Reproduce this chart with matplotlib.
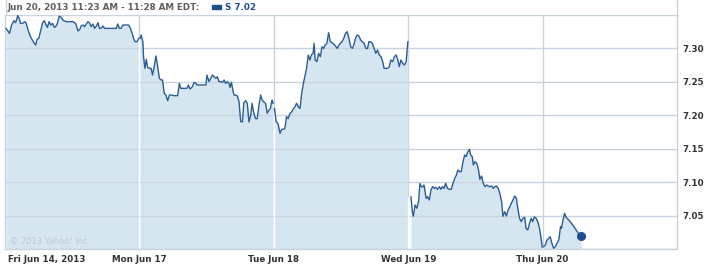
import numpy as np
import matplotlib
matplotlib.use("Agg")
import matplotlib.pyplot as plt
from matplotlib.lines import Line2D
from matplotlib.patches import Rectangle
from matplotlib.transforms import ScaledTranslation

# intraday prices of S, minutes after the open for each session
fri_min = [3, 13, 19, 26, 31, 37, 41, 45, 51, 58, 61, 67, 74, 82, 89, 93, 98, 104, 109, 114,
           118, 123, 128, 133, 138, 143, 147, 152, 157, 162, 167, 171, 178, 197, 205, 212, 217, 221, 226, 231,
           236, 241, 246, 250, 255, 260, 265, 270, 274, 279, 284, 289, 303, 313, 323, 327, 332, 337, 342, 359,
           364, 369, 374, 378, 383, 388]
fri_px = [7.330, 7.3225, 7.335, 7.3415, 7.3385, 7.349, 7.345, 7.3375, 7.3375, 7.340,
          7.3385, 7.3275, 7.3175, 7.310, 7.305, 7.3135, 7.315, 7.3275, 7.3385, 7.3415,
          7.3365, 7.3315, 7.340, 7.335, 7.3375, 7.3315, 7.3325, 7.3375, 7.348, 7.347,
          7.343, 7.3415, 7.340, 7.340, 7.3375, 7.326, 7.3285, 7.3335, 7.335, 7.3325,
          7.3365, 7.340, 7.3375, 7.3325, 7.3365, 7.330, 7.3335, 7.3385, 7.330, 7.330,
          7.3335, 7.330, 7.330, 7.330, 7.330, 7.3365, 7.330, 7.330, 7.335, 7.335,
          7.330, 7.3225, 7.3135, 7.310, 7.310, 7.315]

mon_min = [2, 5, 10, 12, 16, 20, 24, 29, 34, 38, 43, 48, 53, 58, 63, 67, 72, 77, 82, 87,
           92, 101, 111, 116, 120, 130, 138, 142, 147, 154, 159, 164, 168, 193, 196, 202, 207, 212, 217, 222,
           226, 231, 236, 241, 246, 250, 255, 260, 263, 267, 272, 275, 284, 289, 294, 299, 303, 308, 313, 318,
           323, 327, 332, 337, 342, 347, 352, 356, 361, 366, 371, 376, 380, 385, 388]
mon_px = [7.315, 7.320, 7.310, 7.2877, 7.2702, 7.2837, 7.2717, 7.2702, 7.2702, 7.2602,
          7.2727, 7.2887, 7.2727, 7.2553, 7.2528, 7.2528, 7.2328, 7.2303, 7.2218, 7.2303,
          7.2303, 7.2293, 7.2293, 7.2478, 7.2403, 7.2403, 7.2403, 7.2453, 7.2393, 7.2428,
          7.2493, 7.2478, 7.2453, 7.2453, 7.2602, 7.2503, 7.2553, 7.2602, 7.2577, 7.2553,
          7.2577, 7.2503, 7.2503, 7.2493, 7.2528, 7.2478, 7.2503, 7.2478, 7.2418, 7.2493,
          7.2353, 7.2303, 7.2293, 7.2203, 7.1904, 7.1904, 7.2189, 7.2219, 7.218, 7.190,
          7.200, 7.218, 7.203, 7.195, 7.195, 7.2154, 7.2303, 7.223, 7.220, 7.218,
          7.203, 7.208, 7.210, 7.2229, 7.218]

tue_min = [2, 7, 12, 18, 23, 27, 32, 37, 42, 47, 52, 57, 62, 66, 71, 76, 81, 86, 90, 95,
           100, 105, 109, 114, 117, 120, 125, 130, 135, 140, 145, 149, 154, 159, 164, 169, 174, 179, 184, 189,
           193, 198, 203, 208, 213, 218, 223, 228, 232, 237, 242, 247, 252, 257, 262, 267, 272, 276, 281, 286,
           291, 296, 301, 306, 311, 316, 320, 325, 330, 335, 340, 345, 350, 355, 360, 364, 369, 374, 379, 384,
           389]
tue_px = [7.210, 7.190, 7.188, 7.173, 7.179, 7.179, 7.180, 7.198, 7.195, 7.203,
          7.205, 7.210, 7.213, 7.218, 7.213, 7.210, 7.233, 7.248, 7.2577, 7.270,
          7.290, 7.2827, 7.2902, 7.2927, 7.3076, 7.2827, 7.2802, 7.2927, 7.2877, 7.3026,
          7.300, 7.305, 7.3076, 7.3236, 7.310, 7.3086, 7.3066, 7.3036, 7.300, 7.305,
          7.3076, 7.310, 7.315, 7.3226, 7.325, 7.315, 7.3026, 7.300, 7.305, 7.315,
          7.320, 7.3186, 7.3126, 7.310, 7.3076, 7.300, 7.300, 7.310, 7.310, 7.3076,
          7.300, 7.2927, 7.2976, 7.2902, 7.2877, 7.2802, 7.2702, 7.2702, 7.2702, 7.2727,
          7.2827, 7.2802, 7.2877, 7.2902, 7.2827, 7.2727, 7.2827, 7.2777, 7.2752, 7.2802,
          7.310]

wed_min = [8, 12, 15, 20, 25, 30, 34, 38, 42, 46, 52, 56, 61, 66, 71, 76, 80, 85, 90, 95,
           99, 104, 109, 114, 119, 125, 130, 135, 140, 144, 149, 154, 159, 164, 168, 173, 178, 181, 186, 189,
           194, 199, 204, 208, 213, 218, 223, 228, 232, 237, 242, 247, 251, 256, 261, 266, 271, 275, 280, 285,
           290, 295, 299, 304, 309, 314, 318, 323, 328, 333, 338, 342, 347, 352, 357, 361, 366, 371, 376, 381,
           385, 389]
wed_px = [7.078, 7.0558, 7.049, 7.0658, 7.061, 7.0708, 7.098, 7.0932, 7.093, 7.0957,
          7.0758, 7.0783, 7.0733, 7.088, 7.0932, 7.0907, 7.0922, 7.0892, 7.0932, 7.0892,
          7.0932, 7.0907, 7.098, 7.0907, 7.0892, 7.0892, 7.0982, 7.1057, 7.1107, 7.1182,
          7.1157, 7.1157, 7.1306, 7.1406, 7.1381, 7.1456, 7.149, 7.1406, 7.1381, 7.1256,
          7.1306, 7.1281, 7.1182, 7.1042, 7.1092, 7.0982, 7.0932, 7.0957, 7.0942, 7.0932,
          7.0942, 7.0907, 7.0932, 7.0942, 7.0907, 7.083, 7.0708, 7.049, 7.0558, 7.0494,
          7.0583, 7.0633, 7.0683, 7.0733, 7.0793, 7.0758, 7.0608, 7.0459, 7.0409, 7.0459,
          7.0474, 7.0309, 7.0284, 7.0384, 7.0459, 7.0409, 7.048, 7.046, 7.041, 7.031,
          7.018, 7.003]

thu_min = [3, 8, 13, 18, 22, 27, 32, 37, 42, 47, 52, 55, 59, 64, 68, 76, 86, 96, 105, 112]
thu_px = [7.0035, 7.006, 7.0135, 7.016, 7.0184, 7.0085, 7.001, 7.0035, 7.0085, 7.0135,
          7.0334, 7.031, 7.0434, 7.0533, 7.0474, 7.0434, 7.037, 7.0294, 7.0225, 7.0195]

day_labels = ["Fri Jun 14, 2013", "Mon Jun 17", "Tue Jun 18", "Wed Jun 19", "Thu Jun 20"]
y_ticks = [7.05, 7.10, 7.15, 7.20, 7.25, 7.30]
y_grid = [7.00, 7.05, 7.10, 7.15, 7.20, 7.25, 7.30, 7.35]
session = 390

title_text = "Jun 20, 2013 11:23 AM - 11:28 AM EDT:"
legend_text = "S 7.02"

line_c = "#2b5d95"
fill_c = "#d6e6f1"
grid_c = "#c7d4df"
dark_blue = "#1f4e8c"

days = [(fri_min, fri_px), (mon_min, mon_px), (tue_min, tue_px), (wed_min, wed_px), (thu_min, thu_px)]

W, H = 706, 265
fig = plt.figure(figsize=(W / 100, H / 100), dpi=100)
ax = fig.add_axes([5 / W, 16 / H, 672 / W, 234 / H])

ax.set_xlim(0, 5 * session)
ax.set_ylim(7.00, 7.35)

for g in y_grid:
    ax.axhline(g, color=grid_c, lw=1, zorder=1.5)
for i in range(1, 5):
    ax.axvline(i * session, color=grid_c, lw=1, zorder=0.5)

prev_end = None
for i, (mins, px) in enumerate(days):
    x = i * session + np.array(mins)
    ax.fill_between(x, 7.0, px, color=fill_c, lw=0, zorder=1)
    ax.plot(x, px, color=line_c, lw=1.0, zorder=3)
    if prev_end is not None:
        ax.vlines(i * session, 7.0, min(prev_end, px[0]), color="white", lw=1, zorder=1.6)
    prev_end = px[-1]

# last-trade marker
ax.plot(4 * session + thu_min[-1], thu_px[-1], "o", color=dark_blue, ms=5.5, zorder=4)

ax.yaxis.tick_right()
ax.set_yticks(y_ticks)
ax.set_yticklabels([f"{v:.2f}" for v in y_ticks])
ax.set_xticks([i * session for i in range(5)])
ax.set_xticklabels(day_labels)
ax.tick_params(length=0, labelsize=6.3, labelcolor="#333333")
ax.tick_params(axis="y", pad=4)
ax.tick_params(axis="x", pad=4)
for lab in ax.get_xticklabels() + ax.get_yticklabels():
    lab.set_fontweight("bold")
first = ax.get_xticklabels()[0]
first.set_ha("left")
first.set_transform(first.get_transform() + ScaledTranslation(3 / 100, 0, fig.dpi_scale_trans))

ax.spines["top"].set_visible(False)
for s in ["left", "right", "bottom"]:
    ax.spines[s].set_color(grid_c)
    ax.spines[s].set_linewidth(1)

# frame edges run up into the header strip
fig.add_artist(Line2D([5.5 / W, 5.5 / W], [1 - 15 / H, 1], color=grid_c, lw=1))
fig.add_artist(Line2D([677 / W, 677 / W], [1 - 15 / H, 1], color=grid_c, lw=1))

fig.text(8 / W, 1 - 7.5 / H, title_text, fontsize=6.3, fontweight="bold", color="#5e5e5e", va="center", ha="left")
fig.add_artist(Rectangle((212 / W, 1 - 9 / H), 9 / W, 4 / H, color=dark_blue, transform=fig.transFigure))
fig.text(225 / W, 1 - 7.5 / H, legend_text, fontsize=6.3, fontweight="bold", color=dark_blue, va="center", ha="left")

ax.text(0.007, 0.034, "© 2013 Yahoo! Inc.", transform=ax.transAxes, fontsize=6, color="#b9c8d5", ha="left", va="center")

fig.savefig("out.png", dpi=100)
